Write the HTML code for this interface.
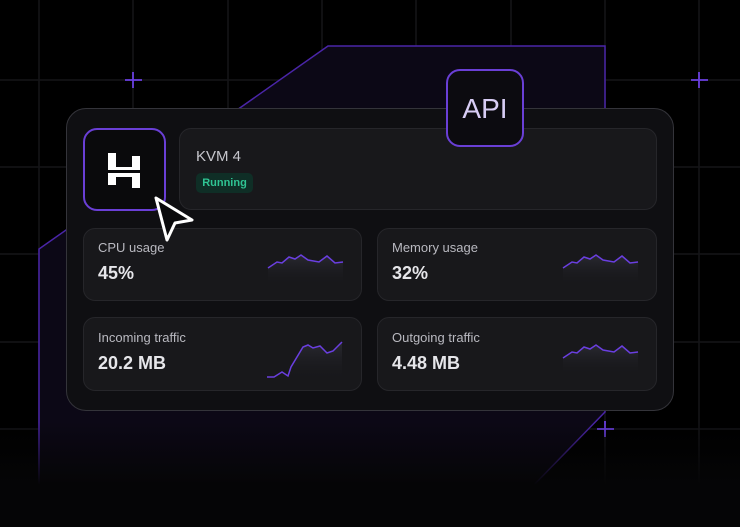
<!DOCTYPE html>
<html><head><meta charset="utf-8"><style>
*{margin:0;padding:0;box-sizing:border-box}
body{width:740px;height:527px;background:#000;position:relative;overflow:hidden;font-family:"Liberation Sans",sans-serif}
.abs{position:absolute}
.card{left:66px;top:108px;width:608px;height:303px;border-radius:20px;background:#0f0f12;border:1.5px solid #34343a}
.panel{background:#18181b;border:1px solid #26262a;border-radius:12px}
.lbl{color:#b9b9c0;font-size:13px}
.val{color:#e6e6ea;font-size:18px;font-weight:bold}
</style></head><body>
<svg class="abs" style="left:0;top:0" width="740" height="527">
<defs>
<linearGradient id="fade" x1="0" y1="0" x2="0" y2="1">
<stop offset="0" stop-color="#050506" stop-opacity="0"/>
<stop offset="0.8" stop-color="#050506" stop-opacity="0"/>
<stop offset="0.92" stop-color="#050506" stop-opacity="1"/>
<stop offset="1" stop-color="#050506" stop-opacity="1"/>
</linearGradient>
</defs>
<g stroke="#151518" stroke-width="1.5">
<line x1="39" y1="0" x2="39" y2="527"/><line x1="133" y1="0" x2="133" y2="527"/><line x1="228" y1="0" x2="228" y2="527"/><line x1="322" y1="0" x2="322" y2="527"/><line x1="416" y1="0" x2="416" y2="527"/><line x1="511" y1="0" x2="511" y2="527"/><line x1="605" y1="0" x2="605" y2="527"/><line x1="699" y1="0" x2="699" y2="527"/>
<line x1="0" y1="80" x2="740" y2="80"/><line x1="0" y1="167" x2="740" y2="167"/><line x1="0" y1="254" x2="740" y2="254"/><line x1="0" y1="342" x2="740" y2="342"/><line x1="0" y1="429" x2="740" y2="429"/>
</g>
<polygon points="328,46 605,46 605,412 493,527 39,527 39,249" fill="#0c0816" stroke="#4a25a8" stroke-width="1.5"/>
<g stroke="#6a3fe0" stroke-width="1.8">
<line x1="125" y1="80" x2="142" y2="80"/><line x1="133" y1="72" x2="133" y2="88"/>
<line x1="691" y1="80" x2="708" y2="80"/><line x1="699" y1="72" x2="699" y2="88"/>
<line x1="597" y1="429" x2="614" y2="429"/><line x1="605" y1="421" x2="605" y2="437"/>
</g>
<rect x="0" y="0" width="740" height="527" fill="url(#fade)"/>
</svg>
<div class="abs card"></div>
<div class="abs" style="left:83px;top:128px;width:83px;height:83px;border:2px solid #6a3fd6;border-radius:14px;background:#0a0a0c"></div>
<svg class="abs" style="left:105px;top:150px" width="40" height="40" viewBox="0 0 40 40">
<polygon points="3,3 11,3 11,17 27,17 27,6 35,6 35,20 3,20" fill="#fff"/>
<polygon points="3,23 35,23 35,38 27,38 27,27 11,27 11,35 3,35" fill="#fff"/>
</svg>
<div class="abs panel" style="left:179px;top:128px;width:478px;height:82px"></div>
<div class="abs" style="left:196px;top:148px;color:#c6c6cc;font-size:15px">KVM 4</div>
<div class="abs" style="left:196px;top:173px;width:57px;height:20px;background:#0f2e26;border-radius:5px;color:#2fc493;font-size:11px;font-weight:bold;text-align:center;line-height:20px">Running</div>
<div class="abs" style="left:446px;top:69px;width:78px;height:78px;border:2px solid #6a3fd6;border-radius:14px;background:#0c0b10;color:#d8cdf5;font-size:28px;text-align:center;line-height:76px">API</div>
<div class="abs panel" style="left:83px;top:228px;width:279px;height:73px"></div>
<div class="abs panel" style="left:377px;top:228px;width:280px;height:73px"></div>
<div class="abs panel" style="left:83px;top:317px;width:279px;height:74px"></div>
<div class="abs panel" style="left:377px;top:317px;width:280px;height:74px"></div>
<svg class="abs" style="left:150px;top:190px" width="60" height="60">
<polygon points="6,8 42,30 25,33 17,50" fill="#0a0a0c" stroke="#fff" stroke-width="3" stroke-linejoin="round"/>
</svg>
<div class="abs lbl" style="left:98px;top:240px">CPU usage</div>
<div class="abs val" style="left:98px;top:263px">45%</div>
<div class="abs lbl" style="left:392px;top:240px">Memory usage</div>
<div class="abs val" style="left:392px;top:263px">32%</div>
<div class="abs lbl" style="left:98px;top:330px">Incoming traffic</div>
<div class="abs val" style="left:98px;top:353px">20.2 MB</div>
<div class="abs lbl" style="left:392px;top:330px">Outgoing traffic</div>
<div class="abs val" style="left:392px;top:353px">4.48 MB</div>
<svg class="abs" style="left:0;top:0" width="740" height="527">
<defs><linearGradient id="sp2" x1="0" y1="0" x2="0" y2="1"><stop offset="0" stop-color="#2a2a32"/><stop offset="1" stop-color="#19191c" stop-opacity="0"/></linearGradient></defs>
<g id="s1">
<polygon points="268,268 277,262 282,263 289,257 295,259 301,255 308,260 319,262 327,256 335,263 343,262 343,285 268,285" fill="url(#sp2)"/>
<polyline points="268,268 277,262 282,263 289,257 295,259 301,255 308,260 319,262 327,256 335,263 343,262" fill="none" stroke="#6a3fe0" stroke-width="1.5"/>
</g>
<use href="#s1" x="295" y="0"/>
<use href="#s1" x="295" y="90"/>
<polygon points="267,377 274,377 282,372 288,376 291,367 303,347 308,345 313,348 320,346 327,353 333,351 342,342 342,380 267,380" fill="url(#sp2)"/>
<polyline points="267,377 274,377 282,372 288,376 291,367 303,347 308,345 313,348 320,346 327,353 333,351 342,342" fill="none" stroke="#6a3fe0" stroke-width="1.5"/>
</svg>
</body></html>
